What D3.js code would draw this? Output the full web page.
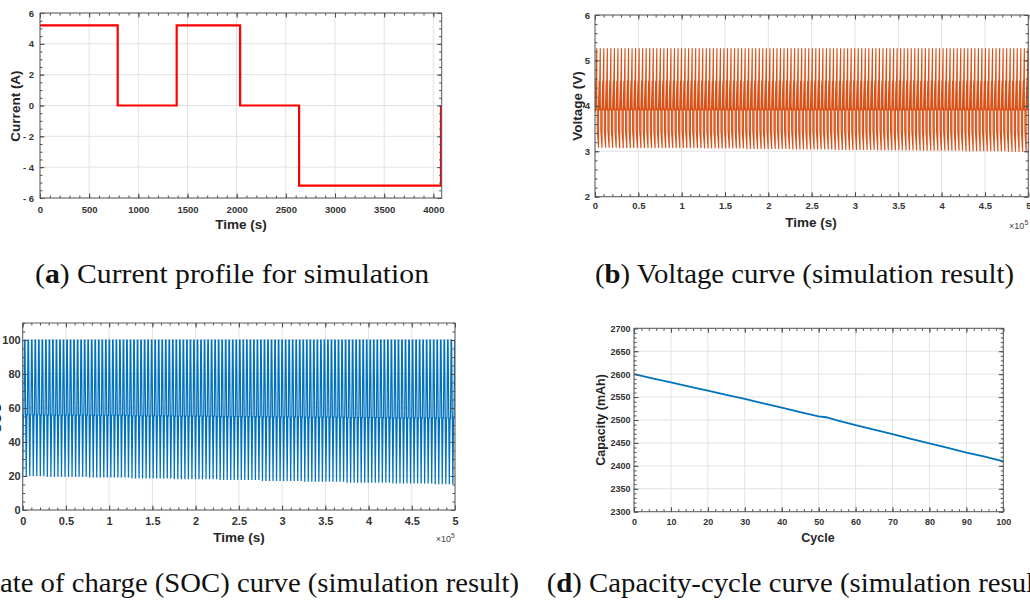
<!DOCTYPE html>
<html>
<head>
<meta charset="utf-8">
<script src="https://cdn.jsdelivr.net/npm/d3@7"></script>
<style>
  body { margin: 0; background: #fff; }
  svg { display: block; }
</style>
</head>
<body>
<div class="main"></div>
<script>
// (a) current profile of one test cycle
const currentTime = [0, 790, 790, 1390, 1390, 2035, 2035, 2635, 2635, 4078, 4078];
const currentAmp  = [5.2, 5.2, 0, 0, 5.2, 5.2, 0, 0, -5.2, -5.2, 0];
const currentXTicks = [0, 500, 1000, 1500, 2000, 2500, 3000, 3500, 4000];
const currentYTicks = [-6, -4, -2, 0, 2, 4, 6];
const currentYLabels = ["- 6", "- 4", "- 2", "0", "2", "4", "6"];

// one cycle of the simulated voltage / SOC (time inside the cycle, value)
const cycleTime = [0, 0, 790, 790, 1390, 1390, 2035, 2035, 2635, 2635, 4078, 4078];
const voltCycle = [3.85, 4.05, 4.55, 3.95, 3.90, 4.60, 5.27, 4.00, 3.92, 3.45, null, 3.85];
const socTime   = [0, 790, 1390, 2035, 2635, 4078];
const socCycle  = ["low", "mid", "mid", 100, 100, "low"];
// values read along the run at 0, 0.5, 1 ... 5 x10^5 s
const readTime  = [0, 50000, 100000, 150000, 200000, 250000, 300000, 350000, 400000, 450000, 500000];
const voltLow   = [3.08, 3.07, 3.07, 3.06, 3.05, 3.04, 3.03, 3.02, 3.01, 3.00, 2.99];
const socLow    = [20, 19.6, 19.1, 18.6, 18.1, 17.6, 17.1, 16.6, 16.1, 15.6, 15.1];
const socMid    = [56, 55.8, 55.6, 55.4, 55.2, 55, 54.8, 54.6, 54.4, 54.2, 54];
const runEnd = 500000;
const timeTicks = [0, 50000, 100000, 150000, 200000, 250000, 300000, 350000, 400000, 450000, 500000];
const timeLabels = ["0", "0.5", "1", "1.5", "2", "2.5", "3", "3.5", "4", "4.5", "5"];
const voltYTicks = [2, 3, 4, 5, 6];
const socYTicks = [0, 20, 40, 60, 80, 100];

// (d) capacity fade
const capCycle = [0, 5, 10, 15, 20, 25, 30, 35, 40, 45, 50, 52, 55, 60, 65, 70, 75, 80, 85, 90, 95, 100];
const capValue = [2600, 2591, 2582, 2573, 2564, 2555, 2546, 2536, 2527, 2517, 2508, 2506, 2499, 2489, 2479, 2469, 2459, 2449, 2439, 2429, 2420, 2410];
const capXTicks = [0, 10, 20, 30, 40, 50, 60, 70, 80, 90, 100];
const capYTicks = [2300, 2350, 2400, 2450, 2500, 2550, 2600, 2650, 2700];

const W = 1030, H = 603;
const svg = d3.select('.main').append('svg')
    .attr('width', W).attr('height', H)
    .style('font-family', '"Liberation Sans", Arial, sans-serif');

// generic MATLAB-like axes box
function panel(p) {
    const g = svg.append('g');
    const x = d3.scaleLinear().domain(p.xDomain).range([p.x0, p.x1]);
    const y = d3.scaleLinear().domain(p.yDomain).range([p.y1, p.y0]);

    // grid
    g.append('g').selectAll('line').data(p.xTicks).join('line')
        .attr('x1', d => x(d)).attr('x2', d => x(d))
        .attr('y1', p.y0).attr('y2', p.y1)
        .attr('stroke', '#e2e2e2');
    g.append('g').selectAll('line').data(p.yTicks).join('line')
        .attr('x1', p.x0).attr('x2', p.x1)
        .attr('y1', d => y(d)).attr('y2', d => y(d))
        .attr('stroke', '#e2e2e2');

    const clipId = 'clip' + p.id;
    svg.append('clipPath').attr('id', clipId)
        .append('rect').attr('x', p.x0).attr('y', p.y0)
        .attr('width', p.x1 - p.x0).attr('height', p.y1 - p.y0);
    const plot = g.append('g').attr('clip-path', 'url(#' + clipId + ')');

    return { g, x, y, plot, p };
}

function finishPanel(P) {
    const { g, x, y, p } = P;
    const xMinor = d3.range(p.xDomain[0], p.xDomain[1] + 1e-9, p.xMinor);
    const yMinor = d3.range(p.yDomain[0], p.yDomain[1] + 1e-9, p.yMinor);
    const tickCol = '#4a4a4a';

    function minor(axis, scale, vals, tr) {
        g.append('g').attr('transform', tr)
            .call(axis(scale).tickValues(vals).tickSize(-2.5).tickFormat(''))
            .call(s => s.select('.domain').remove())
            .call(s => s.selectAll('line').attr('stroke', tickCol));
    }
    minor(d3.axisBottom, x, xMinor, `translate(0,${p.y1})`);
    minor(d3.axisTop, x, xMinor, `translate(0,${p.y0})`);
    minor(d3.axisLeft, y, yMinor, `translate(${p.x0},0)`);
    minor(d3.axisRight, y, yMinor, `translate(${p.x1},0)`);

    // major ticks with labels
    const bottom = g.append('g').attr('transform', `translate(0,${p.y1})`)
        .call(d3.axisBottom(x).tickValues(p.xTicks).tickSize(-4.5).tickPadding(p.xPad)
            .tickFormat((d, i) => p.xLabels ? p.xLabels[i] : d));
    const left = g.append('g').attr('transform', `translate(${p.x0},0)`)
        .call(d3.axisLeft(y).tickValues(p.yTicks).tickSize(-4.5).tickPadding(p.yPad)
            .tickFormat((d, i) => p.yLabels ? p.yLabels[i] : d));
    g.append('g').attr('transform', `translate(0,${p.y0})`)
        .call(d3.axisTop(x).tickValues(p.xTicks).tickSize(-4.5).tickFormat(''));
    g.append('g').attr('transform', `translate(${p.x1},0)`)
        .call(d3.axisRight(y).tickValues(p.yTicks).tickSize(-4.5).tickFormat(''));
    g.selectAll('.domain').remove();
    g.selectAll('.tick line').attr('stroke', tickCol);
    [bottom, left].forEach(a => a.selectAll('text')
        .attr('font-family', '"Liberation Sans", Arial, sans-serif')
        .attr('font-weight', 'bold')
        .attr('font-size', p.tickFont)
        .attr('fill', '#333'));

    // box
    g.append('rect')
        .attr('x', p.x0).attr('y', p.y0)
        .attr('width', p.x1 - p.x0).attr('height', p.y1 - p.y0)
        .attr('fill', 'none').attr('stroke', '#5a5a5a').attr('stroke-width', 1);

    // axis titles
    g.append('text')
        .attr('x', p.xTitleX).attr('y', p.xTitleY)
        .attr('text-anchor', 'middle')
        .attr('font-weight', 'bold').attr('font-size', p.titleFont)
        .attr('fill', '#262626')
        .text(p.xTitle);
    g.append('text')
        .attr('transform', `translate(${p.yTitleX},${p.yTitleY}) rotate(-90)`)
        .attr('text-anchor', 'middle').attr('dy', '0.36em')
        .attr('font-weight', 'bold').attr('font-size', p.titleFont)
        .attr('fill', '#262626')
        .text(p.yTitle);

    if (p.exponent) {
        const t = g.append('text')
            .attr('x', p.x1).attr('y', p.exponentY)
            .attr('text-anchor', 'end')
            .attr('font-size', 9).attr('fill', '#444');
        t.append('tspan').text('\u00d710');
        t.append('tspan').attr('dy', -4).attr('font-size', 7).text('5');
    }
}

// nearest reading along the run
function reading(arr, t) {
    const i = d3.leastIndex(readTime, (a, b) => Math.abs(a - t) - Math.abs(b - t));
    return arr[i];
}

// ---------- (a) Current ----------
const A = panel({
    id: 'a', x0: 40, x1: 441.7, y0: 13, y1: 198,
    xDomain: [0, 4085], yDomain: [-6, 6],
    xTicks: currentXTicks, yTicks: currentYTicks, yLabels: currentYLabels
});
const currentData = currentTime.map((t, i) => ({ t: t, v: currentAmp[i] }));
A.plot.append('path')
    .datum(currentData)
    .attr('fill', 'none')
    .attr('stroke', '#ff0000')
    .attr('stroke-width', 2.2)
    .attr('d', d3.line().x(d => A.x(d.t)).y(d => A.y(d.v)));
finishPanel(Object.assign(A, { p: Object.assign(A.p, {
    xMinor: 100, yMinor: 0.5, xPad: 8.5, yPad: 6, tickFont: 9.5,
    xTitle: 'Time (s)', xTitleX: 241, xTitleY: 228.5,
    yTitle: 'Current (A)', yTitleX: 15, yTitleY: 106, titleFont: 13.5
}) }));

// repeat the cycle template over the whole run
const period = cycleTime[cycleTime.length - 1];
const voltData = [], socData = [];
for (let start = 0; start < runEnd; start += period) {
    cycleTime.forEach((t, i) => {
        const tt = start + t;
        const v = voltCycle[i] === null ? reading(voltLow, tt) : voltCycle[i];
        voltData.push({ t: tt, v: v });
    });
    socTime.forEach((t, i) => {
        const tt = start + t;
        let v = socCycle[i];
        if (v === 'low') v = reading(socLow, tt);
        if (v === 'mid') v = reading(socMid, tt);
        socData.push({ t: tt, v: v });
    });
}

// ---------- (b) Voltage ----------
const B = panel({
    id: 'b', x0: 595, x1: 1028.3, y0: 15, y1: 196.7,
    xDomain: [0, runEnd], yDomain: [2, 6],
    xTicks: timeTicks, xLabels: timeLabels, yTicks: voltYTicks
});
B.plot.append('path')
    .datum(voltData)
    .attr('fill', 'none')
    .attr('stroke', '#D95319')
    .attr('stroke-width', 1.15)
    .attr('d', d3.line().x(d => B.x(d.t)).y(d => B.y(d.v)));
finishPanel(Object.assign(B, { p: Object.assign(B.p, {
    xMinor: 10000, yMinor: 0.2, xPad: 6, yPad: 5, tickFont: 9.5,
    xTitle: 'Time (s)', xTitleX: 811, xTitleY: 226.5,
    yTitle: 'Voltage (V)', yTitleX: 577, yTitleY: 106, titleFont: 13.5,
    exponent: true, exponentY: 229
}) }));

// ---------- (c) SOC ----------
const C = panel({
    id: 'c', x0: 22.7, x1: 455, y0: 323, y1: 510,
    xDomain: [0, runEnd], yDomain: [0, 110],
    xTicks: timeTicks, xLabels: timeLabels, yTicks: socYTicks
});
C.plot.append('path')
    .datum(socData)
    .attr('fill', 'none')
    .attr('stroke', '#0072BD')
    .attr('stroke-width', 1.25)
    .attr('d', d3.line().x(d => C.x(d.t)).y(d => C.y(d.v)));
finishPanel(Object.assign(C, { p: Object.assign(C.p, {
    xMinor: 10000, yMinor: 5, xPad: 7.5, yPad: 2, tickFont: 11,
    xTitle: 'Time (s)', xTitleX: 239, xTitleY: 541.5,
    yTitle: 'SOC', yTitleX: -4, yTitleY: 418, titleFont: 13.5,
    exponent: true, exponentY: 542
}) }));

// ---------- (d) Capacity ----------
const D = panel({
    id: 'd', x0: 634, x1: 1003.3, y0: 328.3, y1: 511.7,
    xDomain: [0, 100], yDomain: [2300, 2700],
    xTicks: capXTicks, yTicks: capYTicks
});
const capData = capCycle.map((c, i) => ({ c: c, v: capValue[i] }));
D.plot.append('path')
    .datum(capData)
    .attr('fill', 'none')
    .attr('stroke', '#0072BD')
    .attr('stroke-width', 1.8)
    .attr('d', d3.line().x(d => D.x(d.c)).y(d => D.y(d.v)));
finishPanel(Object.assign(D, { p: Object.assign(D.p, {
    xMinor: 2, yMinor: 10, xPad: 7, yPad: 3.5, tickFont: 9,
    xTitle: 'Cycle', xTitleX: 818, xTitleY: 541.5,
    yTitle: 'Capacity (mAh)', yTitleX: 600, yTitleY: 420, titleFont: 12.5
}) }));

// ---------- captions ----------
const captions = [
    { tag: 'a', text: ' Current profile for simulation', x: 35, y: 283, len: 394 },
    { tag: 'b', text: ' Voltage curve (simulation result)', x: 595, y: 283, len: 419 },
    { tag: 'c', text: ' State of charge (SOC) curve (simulation result)', x: -63, y: 592, len: 582 },
    { tag: 'd', text: ' Capacity-cycle curve (simulation result)', x: 546.7, y: 592, len: 505 }
];
captions.forEach(c => {
    const t = svg.append('text')
        .attr('x', c.x).attr('y', c.y)
        .attr('textLength', c.len)
        .attr('lengthAdjust', 'spacingAndGlyphs')
        .attr('font-family', '"Liberation Serif", "DejaVu Serif", serif')
        .attr('font-size', 27)
        .attr('fill', '#111');
    t.append('tspan').text('(');
    t.append('tspan').attr('font-weight', 'bold').text(c.tag);
    t.append('tspan').text(')' + c.text);
});
</script>
</body>
</html>
